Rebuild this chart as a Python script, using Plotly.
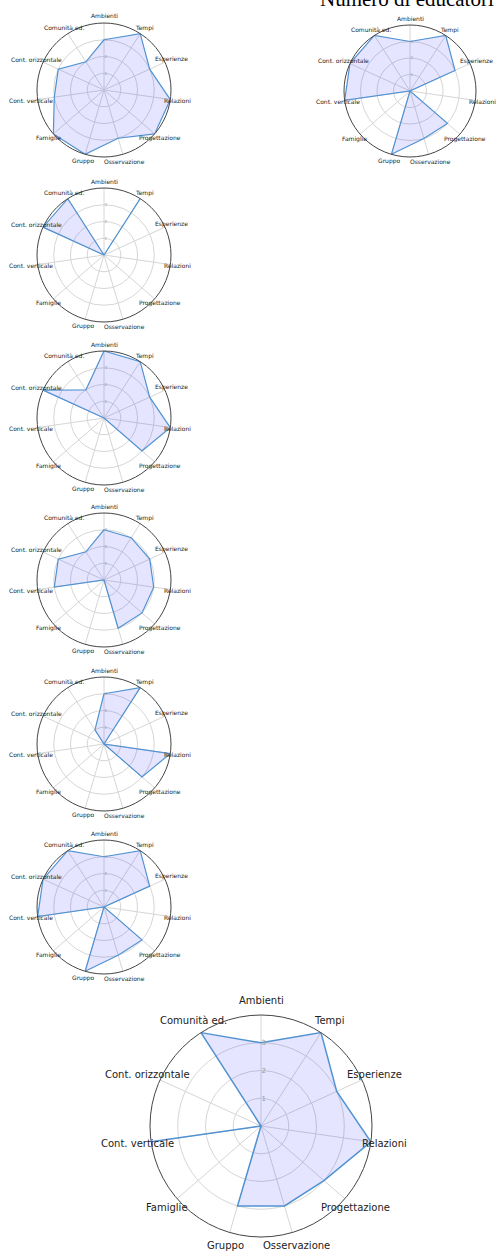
import math
import plotly.graph_objects as go

# Eleven dimensions, read clockwise starting from the top
categorie = ["Ambienti", "Tempi", "Esperienze", "Relazioni", "Progettazione",
             "Osservazione", "Gruppo", "Famiglie", "Cont. verticale",
             "Cont. orizzontale", "Comunità ed."]

valori_1 = [3, 4, 3, 4, 4, 3, 4, 4, 3, 3, 2]
valori_2 = [3, 4, 3, 0, 3, 3, 4, 0, 4, 4, 4]
valori_3 = [0, 4, 0, 0, 0, 0, 0, 0, 0, 4, 4]
valori_4 = [4, 4, 3, 4, 3, 0, 0, 0, 0, 4, 2]
valori_5 = [3, 3, 3, 3, 3, 3, 0, 0, 3, 3, 2]
valori_6 = [3, 4, 0, 4, 3, 0, 0, 0, 0, 0, 1]
valori_7 = [3, 4, 3, 0, 3, 3, 4, 0, 4, 4, 4]
valori_8 = [3, 4, 3, 4, 3, 3, 3, 0, 4, 0, 4]

radial_ticks = [1, 2, 3]
radial_max = 4
titolo = "Numero di educatori"

W, H = 497, 1251

# (values, centre x, centre y, radius, label size, label offset) in pixels
pannelli = [
    (valori_1, 104, 90, 67, 6, 7),
    (valori_2, 410, 91, 66, 6, 7),
    (valori_3, 104, 255, 67, 6, 7),
    (valori_4, 104, 418, 67, 6, 7),
    (valori_5, 104, 580, 67, 6, 7),
    (valori_6, 104, 744, 67, 6, 7),
    (valori_7, 104, 907, 67, 6, 7),
    (valori_8, 261, 1126, 111, 10, 14),
]

fig = go.Figure()
layout_polars = {}
annotations = []
n = len(categorie)

for i, (vals, cx, cy, r, fs, off) in enumerate(pannelli, start=1):
    name = "polar" if i == 1 else f"polar{i}"
    fig.add_trace(go.Scatterpolar(
        r=vals + vals[:1],
        theta=categorie + categorie[:1],
        mode="lines",
        fill="toself",
        fillcolor="rgba(0,0,255,0.1)",
        line=dict(color="#5193d2", width=1.2 if fs < 8 else 1.5),
        subplot=name,
        showlegend=False,
    ))
    layout_polars[name] = dict(
        domain=dict(x=[(cx - r) / W, (cx + r) / W],
                    y=[1 - (cy + r) / H, 1 - (cy - r) / H]),
        bgcolor="white",
        angularaxis=dict(
            direction="clockwise", rotation=90,
            showticklabels=False,
            ticks="", showline=True, linecolor="#444", linewidth=1,
            gridcolor="#d6d6d6", gridwidth=1,
        ),
        radialaxis=dict(
            range=[0, radial_max], tickvals=radial_ticks,
            ticktext=[str(t) for t in radial_ticks],
            angle=90, tickangle=90, side="clockwise",
            showline=False, ticks="",
            tickfont=dict(family="DejaVu Sans", size=max(4, fs - 3), color="#999"),
            gridcolor="#d6d6d6", gridwidth=1,
        ),
    )
    # category labels centred just outside the rim, one per spoke
    for k, lab in enumerate(categorie):
        a = math.radians(90 - k * 360 / n)
        lx = cx + (r + off) * math.cos(a)
        ly = cy - (r + off) * math.sin(a)
        annotations.append(dict(
            text=lab, x=lx / W, y=1 - ly / H, xref="paper", yref="paper",
            xanchor="center", yanchor="middle", showarrow=False,
            font=dict(family="DejaVu Sans", size=fs, color="#222"),
        ))

annotations.append(dict(
    text=titolo, x=407 / W, y=1 - 13 / H, xref="paper", yref="paper",
    xanchor="center", yanchor="bottom", showarrow=False,
    font=dict(family="Liberation Serif", size=21, color="black"),
))

fig.update_layout(
    width=W, height=H, autosize=False,
    margin=dict(l=0, r=0, t=0, b=0),
    paper_bgcolor="white", plot_bgcolor="white",
    annotations=annotations,
    **layout_polars,
)

fig.write_html("out.html")
